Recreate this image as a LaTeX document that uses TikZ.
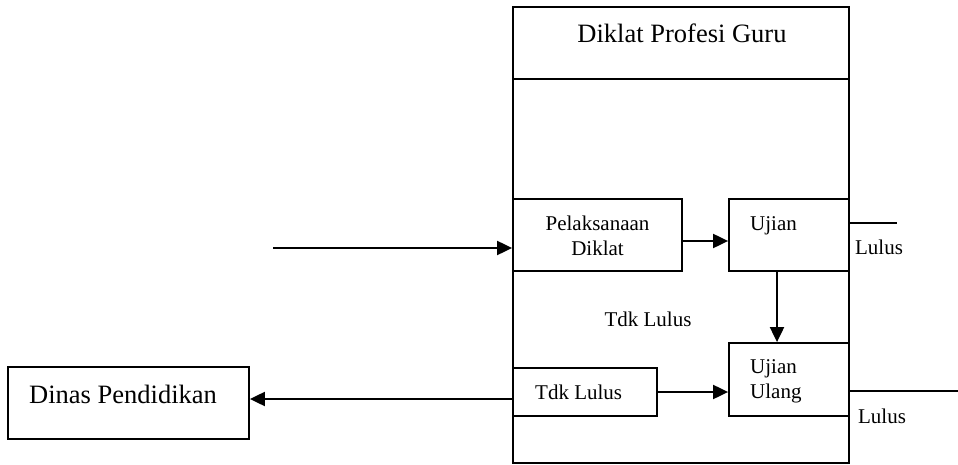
\documentclass[tikz,border=0pt]{standalone}
\usepackage{fontspec}
\setmainfont{Liberation Serif}
\usetikzlibrary{arrows.meta}
\begin{document}
\begin{tikzpicture}[x=1pt,y=-1pt,
  box/.style={draw,line width=1.8pt,minimum width=#1,inner sep=0pt},
  conn/.style={line width=2pt},
  arr/.style={conn,-{Triangle[length=15pt,width=14pt]}},
  big/.style={font=\fontsize{26.5}{30}\selectfont,inner sep=0pt},
  small/.style={font=\fontsize{21}{25}\selectfont,inner sep=0pt,align=left}]
\useasboundingbox (0,0) rectangle (958,465);
% outer frame
\node[box=336pt,minimum height=456pt] (outer) at (681,235) {};
\coordinate (hl) at (513,79);
\coordinate (hr) at (849,79);
\draw[line width=1.8pt] (hl) -- (hr);
\node[big,anchor=base] (title) at (682,43) {Diklat Profesi Guru};
% boxes
\node[box=169pt,minimum height=72pt] (pel) at (597.5,235) {};
\node[box=120pt,minimum height=72pt] (ujian) at (789,235) {};
\node[box=120pt,minimum height=73pt] (ulang) at (789,379.5) {};
\node[box=144pt,minimum height=48pt] (tdk) at (585,392) {};
\node[box=241pt,minimum height=72pt] (dinas) at (128.5,403) {};
% texts
\node[small,anchor=base] (tpel1) at (597.5,230) {Pelaksanaan};
\node[small,anchor=base] (tpel2) at (597.5,255) {Diklat};
\node[small,anchor=base west] (tujian) at (750,230) {Ujian};
\node[small,anchor=base west] (tulang1) at (750,373) {Ujian};
\node[small,anchor=base west] (tulang2) at (750,398) {Ulang};
\node[small,anchor=base west] (ttdk) at (535,399) {Tdk Lulus};
\node[small,anchor=base] (tfloat) at (648,326) {Tdk Lulus};
\node[small,anchor=base] (lulus1) at (879,254) {Lulus};
\node[small,anchor=base] (lulus2) at (882,423) {Lulus};
\node[big,anchor=base west] (tdinas) at (29,403) {Dinas Pendidikan};
% connectors
\coordinate (inS) at (273,248);
\draw[arr] (inS) -- (inS -| pel.west);
\coordinate (a1) at (682,241);
\draw[arr] (a1) -- (a1 -| ujian.west);
\coordinate (d1) at (777,271);
\draw[arr] (d1) -- (d1 |- ulang.north);
\draw[arr] (tdk.east) -- (tdk.east -| ulang.west);
\coordinate (dl) at (513,399);
\draw[arr] (dl) -- (dl -| dinas.east);
\coordinate (l1a) at (849,223);
\coordinate (l1b) at (897,223);
\draw[line width=1.5pt] (l1a) -- (l1b);
\coordinate (l2a) at (849,391);
\coordinate (l2b) at (958,391);
\draw[line width=1.5pt] (l2a) -- (l2b);
\end{tikzpicture}
\end{document}
